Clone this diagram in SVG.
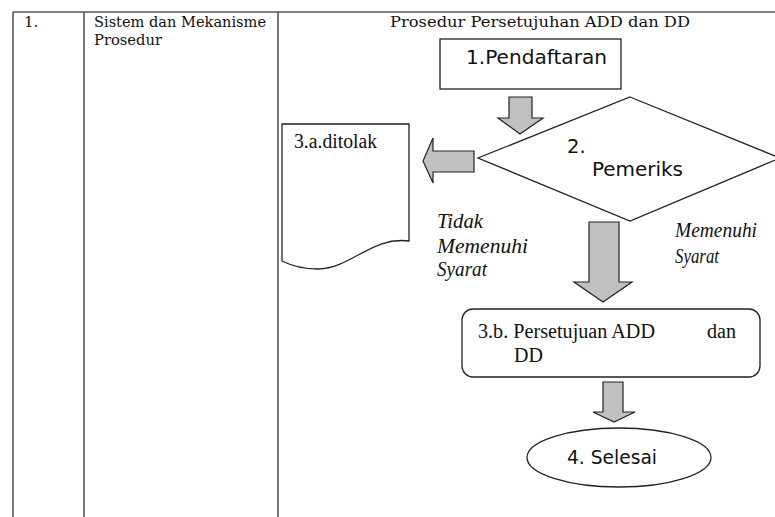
<svg xmlns="http://www.w3.org/2000/svg" width="775" height="517" viewBox="0 0 775 517">
<style>
.grid{stroke:#555;stroke-width:1.6;fill:none}
.shape{fill:#fff;stroke:#222;stroke-width:1.3}
.arrow{fill:#c0c0c0;stroke:#222;stroke-width:1.2;stroke-linejoin:miter}
.tser{font-family:"DejaVu Serif",serif;font-size:15px;fill:#111}
.ttimes{font-family:"Liberation Serif","Times New Roman",serif;font-size:20px;fill:#111}
.tital{font-family:"Liberation Serif","Times New Roman",serif;font-size:20px;font-style:italic;fill:#111}
.tsans{font-family:"DejaVu Sans",sans-serif;font-size:19.5px;fill:#111}
</style>
<rect width="775" height="517" fill="#fff"/>
<g id="table">
<line class="grid" x1="13" y1="12" x2="775" y2="12"/>
<line class="grid" x1="13" y1="12" x2="13" y2="517" stroke="#888"/>
<line class="grid" x1="84" y1="12" x2="84" y2="517"/>
<line class="grid" x1="278" y1="12" x2="278" y2="517"/>
<text class="tser" x="24" y="27">1.</text>
<text class="tser" x="94" y="27" textLength="172" lengthAdjust="spacingAndGlyphs">Sistem dan Mekanisme</text>
<text class="tser" x="94" y="45" textLength="68" lengthAdjust="spacingAndGlyphs">Prosedur</text>
<text class="tser" x="390" y="27" textLength="300" lengthAdjust="spacingAndGlyphs">Prosedur Persetujuhan ADD dan DD</text>
</g>
<g id="connectors">
<polygon class="arrow" points="509,97 532,97 532,118 543,118 520,134 498,118 509,118"/>
<polygon class="arrow" points="474,151 433,151 433,138 423,161 433,183 433,172 474,172"/>
<polygon class="arrow" points="589,222 619,222 619,282 632,282 603,302 574,282 589,282"/>
<polygon class="arrow" points="603,382 623,382 623,412 635,412 614,422 593,412 603,412"/>
<text class="tital" x="437" y="228" textLength="46" lengthAdjust="spacingAndGlyphs">Tidak</text>
<text class="tital" x="437" y="253" textLength="91" lengthAdjust="spacingAndGlyphs">Memenuhi</text>
<text class="tital" x="437" y="276" textLength="50" lengthAdjust="spacingAndGlyphs">Syarat</text>
<text class="tital" x="675" y="237" textLength="82" lengthAdjust="spacingAndGlyphs">Memenuhi</text>
<text class="tital" x="675" y="263" textLength="44" lengthAdjust="spacingAndGlyphs">Syarat</text>
</g>
<g id="node-pendaftaran">
<rect class="shape" x="440" y="39" width="181" height="50"/>
<text class="tsans" x="466" y="64" textLength="141" lengthAdjust="spacingAndGlyphs">1.Pendaftaran</text>
</g>
<g id="node-pemeriks">
<polygon class="shape" points="630,97 780,158 630,221 478,158"/>
<text class="tsans" x="567" y="153">2.</text>
<text class="tsans" x="592" y="176" textLength="91" lengthAdjust="spacingAndGlyphs">Pemeriks</text>
</g>
<g id="node-ditolak">
<path class="shape" d="M282,124 H409 V241 C372,236 352,268 318,269 C300,269 290,265 282,261 Z"/>
<text class="ttimes" x="294" y="148" textLength="83" lengthAdjust="spacingAndGlyphs">3.a.ditolak</text>
</g>
<g id="node-persetujuan">
<rect class="shape" x="462" y="309" width="298" height="68" rx="11" ry="11"/>
<text class="ttimes" x="478" y="338" textLength="177" lengthAdjust="spacingAndGlyphs">3.b. Persetujuan ADD</text>
<text class="ttimes" x="707" y="338" textLength="29" lengthAdjust="spacingAndGlyphs">dan</text>
<text class="ttimes" x="514" y="362">DD</text>
</g>
<g id="node-selesai">
<ellipse class="shape" cx="619" cy="457.5" rx="92" ry="29.5"/>
<text class="tsans" x="567" y="464" textLength="90" lengthAdjust="spacingAndGlyphs">4. Selesai</text>
</g>
</svg>
